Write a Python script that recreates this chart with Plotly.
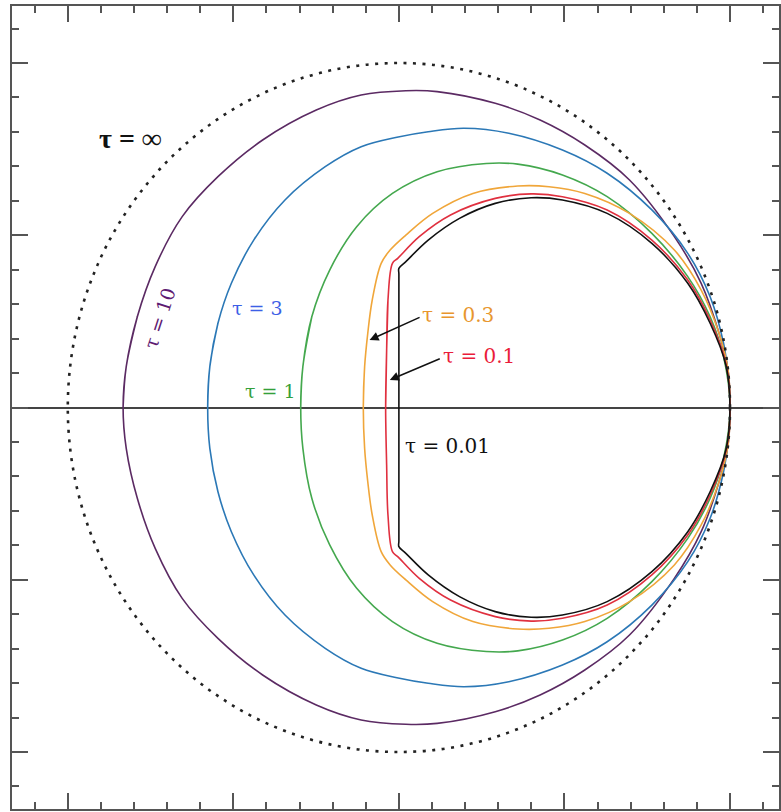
import plotly.graph_objects as go

# Upper-half outlines (x, y) of each closed curve, from the leftmost point on the
# axis over the top to the common point (2, 0); the lower half mirrors the upper.
tau10_x = [-1.666, -1.647, -1.580, -1.472, -1.309, -1.093, -0.823, -0.499, -0.228,
           0.042, 0.231, 0.582, 0.853, 1.123, 1.393, 1.664, 1.826, 1.934, 1.988, 2.0]
tau10_y = [0.0, 0.237, 0.527, 0.818, 1.108, 1.340, 1.553, 1.727, 1.814,
           1.839, 1.834, 1.766, 1.669, 1.524, 1.321, 0.992, 0.721, 0.431, 0.218, 0.0]

tau3_x = [-1.155, -1.142, -1.093, -1.012, -0.877, -0.688, -0.445, -0.228, -0.012,
          0.177, 0.393, 0.664, 0.988, 1.258, 1.528, 1.745, 1.880, 1.961, 1.992, 2.0]
tau3_y = [0.0, 0.237, 0.489, 0.721, 0.972, 1.205, 1.398, 1.514, 1.569,
          1.601, 1.621, 1.592, 1.495, 1.360, 1.147, 0.895, 0.643, 0.373, 0.160, 0.0]

tau1_x = [-0.593, -0.580, -0.526, -0.418, -0.255, -0.039, 0.231, 0.528, 0.718,
          0.988, 1.258, 1.528, 1.745, 1.880, 1.961, 2.0]
tau1_y = [0.0, 0.237, 0.527, 0.798, 1.050, 1.243, 1.369, 1.417, 1.413,
          1.350, 1.224, 1.011, 0.760, 0.527, 0.295, 0.0]

tau03_x = [-0.215, -0.207, -0.188, -0.161, -0.107, -0.053, 0.042, 0.204, 0.447,
           0.718, 0.907, 1.123, 1.393, 1.664, 1.826, 1.934, 1.988, 2.0]
tau03_y = [0.0, 0.237, 0.431, 0.624, 0.837, 0.914, 1.001, 1.127, 1.243,
           1.286, 1.282, 1.243, 1.127, 0.914, 0.682, 0.431, 0.218, 0.0]

tau01_x = [-0.080, -0.074, -0.066, -0.039, -0.007, 0.123, 0.312, 0.582, 0.799,
           0.988, 1.258, 1.528, 1.745, 1.880, 1.975, 2.0]
tau01_y = [0.0, 0.334, 0.624, 0.837, 0.866, 0.992, 1.118, 1.214, 1.240,
           1.224, 1.147, 0.972, 0.740, 0.508, 0.256, 0.0]

tau001_x = [0.0, 0.0, 0.0, 0.0, 0.042, 0.177, 0.366, 0.582, 0.799, 0.988, 1.258,
            1.528, 1.745, 1.880, 1.975, 2.0]
tau001_y = [0.0, 0.40, 0.775, 0.808, 0.847, 0.972, 1.098, 1.185, 1.218, 1.205, 1.127,
            0.953, 0.721, 0.489, 0.247, 0.0]

# Optically thick limit: circle of radius 2 about the origin
inf_radius = 2.0

curves = [
    (tau10_x, tau10_y, "#5b2a63"),
    (tau3_x, tau3_y, "#2b78b6"),
    (tau1_x, tau1_y, "#44a84e"),
    (tau03_x, tau03_y, "#f0a63a"),
    (tau01_x, tau01_y, "#e0303f"),
    (tau001_x, tau001_y, "#111111"),
]


def closed(xs, ys):
    """Upper half, mirrored lower half, then a short overlap so the spline has no loose end."""
    fx = list(xs) + list(xs[-2::-1]) + list(xs[1:3])
    fy = list(ys) + [-v for v in ys[-2::-1]] + list(ys[1:3])
    return fx, fy


fig = go.Figure()
for xs, ys, col in curves:
    fx, fy = closed(xs, ys)
    fig.add_trace(go.Scatter(x=fx, y=fy, mode="lines",
                             line=dict(color=col, width=1.6, shape="spline", smoothing=1.0),
                             hoverinfo="skip", showlegend=False))

fig.add_shape(type="circle", xref="x", yref="y",
              x0=-inf_radius, y0=-inf_radius, x1=inf_radius, y1=inf_radius,
              line=dict(color="#222222", width=2.6, dash="3px,6.5px"))

serif = "DejaVu Serif, serif"
times = "Liberation Serif, Times New Roman, serif"
labels = [
    ("<b>τ = ∞</b>", -1.620, 1.562, "#111111", 28, 0, times),
    ("τ = 10", -1.446, 0.52, "#5e1a72", 19, -72, serif),
    ("τ = 3", -0.855, 0.58, "#3d5fe6", 19, 0, serif),
    ("τ = 1", -0.777, 0.093, "#34a03a", 19, 0, serif),
    ("τ = 0.3", 0.358, 0.537, "#e8962e", 20, 0, serif),
    ("τ = 0.1", 0.482, 0.299, "#ea1c3a", 20, 0, serif),
    ("τ = 0.01", 0.295, -0.224, "#111111", 20, 0, serif),
]
for txt, x, y, col, size, ang, fam in labels:
    fig.add_annotation(x=x, y=y, text=txt, showarrow=False, textangle=ang,
                       font=dict(family=fam, size=size, color=col))

# Pointers from the two inner labels to their curves
arrows = [
    (0.134, 0.527, -0.177, 0.392),
    (0.256, 0.287, -0.055, 0.160),
]
for tx, ty, hx, hy in arrows:
    fig.add_annotation(x=hx, y=hy, ax=tx, ay=ty, xref="x", yref="y",
                       axref="x", ayref="y", text="", showarrow=True,
                       arrowhead=2, arrowsize=1.2, arrowwidth=1.5, arrowcolor="#111111")

axis_common = dict(
    showline=True, linecolor="#555555", linewidth=2, mirror="ticks",
    ticks="inside", ticklen=16, tickwidth=2, tickcolor="#555555",
    tick0=0, dtick=1, showticklabels=False, showgrid=False,
    minor=dict(ticks="inside", dtick=0.2, ticklen=7, tickwidth=2,
               tickcolor="#555555", showgrid=False),
)

fig.update_xaxes(range=[-2.337, 2.296], zeroline=False, **axis_common)
fig.update_yaxes(range=[-2.331, 2.331], zeroline=True, zerolinecolor="#444444",
                 zerolinewidth=1.6, **axis_common)

fig.update_layout(
    width=781, height=812,
    margin=dict(l=12, r=0, t=6, b=3),
    paper_bgcolor="white", plot_bgcolor="white",
    showlegend=False,
)

fig.write_html("out.html")
